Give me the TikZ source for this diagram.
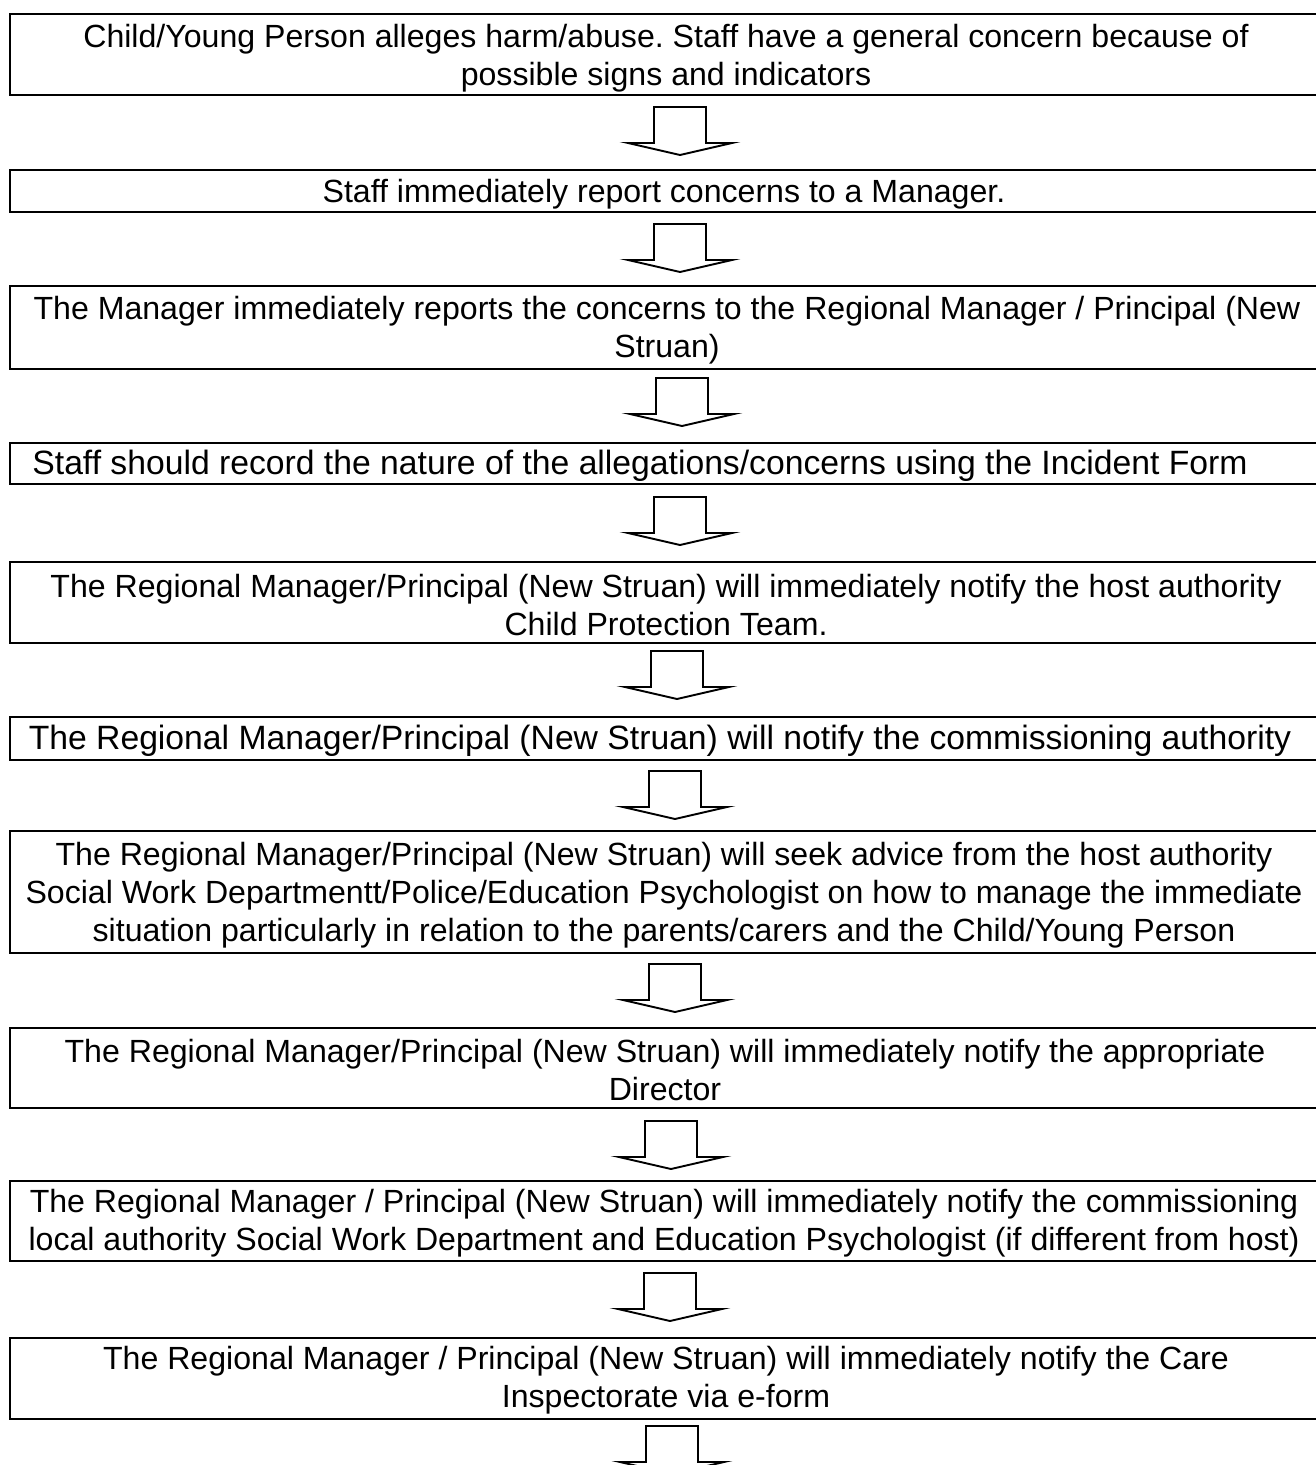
\documentclass[tikz,border=0pt]{standalone}
\usepackage{fontspec}
\setmainfont{Liberation Sans}
\begin{document}
\frenchspacing
\begin{tikzpicture}[x=1pt,y=-1pt,
  frame/.style={draw=black, line width=2.2pt},
  txt/.style={align=center, font=\fontsize{32.1}{38}\selectfont, inner sep=0pt, yshift=-2pt},
  wide/.style={font=\fontsize{33.7}{38}\selectfont},
  arrowline/.style={draw=black, line width=1.9pt, fill=white, line join=miter},
  downarr/.pic={\draw[arrowline] (-26,0) -- (26,0) -- (26,36) -- (52,36) -- (0,48) -- (-52,36) -- (-26,36) -- cycle;}]
\clip (0,0) rectangle (1316,1465);
\fill[white] (0,0) rectangle (1316,1465);
% boxes
\draw[frame] (10,14) rectangle (1340,95);
\node[txt] (t1) at (666,56) {Child/Young Person alleges harm/abuse. Staff have a general concern because of\\possible signs and indicators};
\draw[frame] (10,170) rectangle (1340,212);
\node[txt] (t2) at (664,192) {Staff immediately report concerns to a Manager.};
\draw[frame] (10,286) rectangle (1340,369);
\node[txt] (t3) at (667,328.5) {The Manager immediately reports the concerns to the Regional Manager / Principal (New\\Struan)};
\draw[frame] (10,443) rectangle (1340,484);
\node[txt,wide] (t4) at (640,464) {Staff should record the nature of the allegations/concerns using the Incident Form};
\draw[frame] (10,562) rectangle (1340,643);
\node[txt] (t5) at (666,603.5) {The Regional Manager/Principal (New Struan) will immediately notify the host authority\\Child Protection Team.};
\draw[frame] (10,717) rectangle (1340,760);
\node[txt,wide] (t6) at (660,739) {The Regional Manager/Principal (New Struan) will notify the commissioning authority};
\draw[frame] (10,831) rectangle (1340,953);
\node[txt] (t7) at (664,893) {The Regional Manager/Principal (New Struan) will seek advice from the host authority\\Social Work Departmentt/Police/Education Psychologist on how to manage the immediate\\situation particularly in relation to the parents/carers and the Child/Young Person};
\draw[frame] (10,1028) rectangle (1340,1108);
\node[txt] (t8) at (665,1068.5) {The Regional Manager/Principal (New Struan) will immediately notify the appropriate\\Director};
\draw[frame] (10,1181) rectangle (1340,1261);
\node[txt] (t9) at (664,1221.5) {The Regional Manager / Principal (New Struan) will immediately notify the commissioning\\local authority Social Work Department and Education Psychologist (if different from host)};
\draw[frame] (10,1338) rectangle (1340,1419);
\node[txt] (t10) at (666,1378.5) {The Regional Manager / Principal (New Struan) will immediately notify the Care\\Inspectorate via e-form};
% arrows
\pic at (680,107) {downarr};
\pic at (680,224) {downarr};
\pic at (682,378) {downarr};
\pic at (680,497) {downarr};
\pic at (677,651) {downarr};
\pic at (675,771) {downarr};
\pic at (675,964) {downarr};
\pic at (671,1121) {downarr};
\pic at (670,1273) {downarr};
\pic at (672,1426) {downarr};
\end{tikzpicture}
\end{document}
